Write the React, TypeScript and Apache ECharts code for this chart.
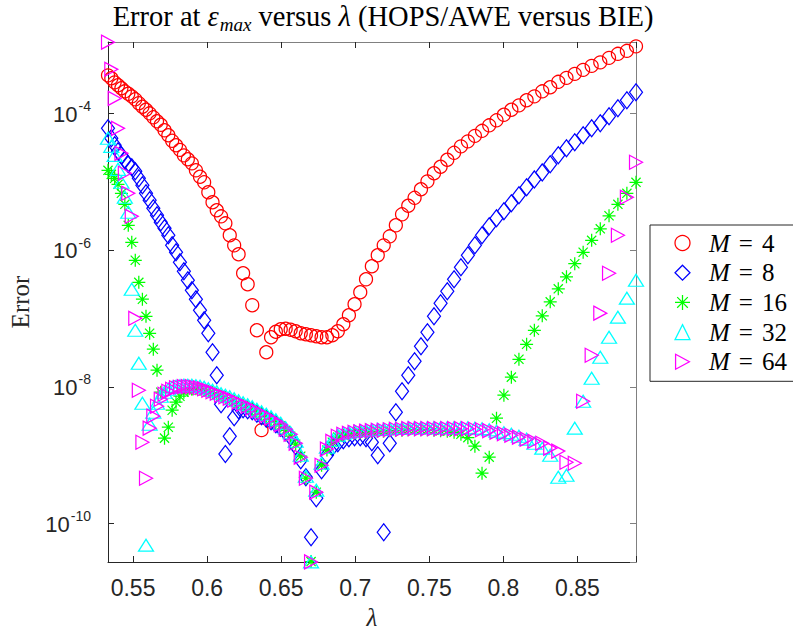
import { useEffect, useRef } from "react";
import * as echarts from "echarts";

// Wavelength samples (shared by every reduced-order model)
const lambda = [
  0.5331, 0.53533, 0.53759, 0.53986, 0.54215, 0.54446, 0.54679, 0.54914, 0.55151, 0.5539,
  0.55632, 0.55875, 0.56121, 0.56369, 0.56619, 0.56871, 0.57125, 0.57382, 0.5764, 0.57901,
  0.58165, 0.58431, 0.58699, 0.58971, 0.59244, 0.59521, 0.59799, 0.60081, 0.60365, 0.60651,
  0.60941, 0.61233, 0.61528, 0.61826, 0.62126, 0.6243, 0.62737, 0.63046, 0.63359, 0.63675,
  0.63994, 0.64316, 0.64641, 0.6497, 0.65302, 0.65638, 0.65977, 0.6632, 0.66666, 0.67016,
  0.67369, 0.67726, 0.68087, 0.68452, 0.68821, 0.69194, 0.69571, 0.69952, 0.70337, 0.70726,
  0.7112, 0.71518, 0.71921, 0.72328, 0.7274, 0.73157, 0.73578, 0.74004, 0.74436, 0.74872,
  0.75314, 0.7576, 0.76212, 0.7667, 0.77133, 0.77602, 0.78076, 0.78557, 0.79042, 0.79534,
  0.80033, 0.80537, 0.81048, 0.81566, 0.8209, 0.82622, 0.8316, 0.83704, 0.84257, 0.84816,
  0.85383, 0.85957, 0.86539, 0.8713, 0.87728, 0.88335, 0.8895,
];

// Error at eps_max, M = 4
const errM4 = [
  3.63e-4, 3.29e-4, 2.87e-4, 2.6e-4, 2.35e-4, 2.12e-4, 1.95e-4, 1.79e-4, 1.62e-4, 1.42e-4,
  1.26e-4, 1.14e-4, 1.01e-4, 8.83e-5, 7.72e-5, 6.86e-5, 5.7e-5, 4.82e-5, 4.0e-5, 3.44e-5,
  2.95e-5, 2.45e-5, 2.15e-5, 1.87e-5, 1.48e-5, 1.19e-5, 9.88e-6, 7.06e-6, 5.04e-6, 3.85e-6,
  3.14e-6, 2.48e-6, 1.66e-6, 1.18e-6, 8.74e-7, 4.61e-7, 3.18e-7, 1.57e-7, 6.75e-8, 2.33e-9,
  3.22e-8, 5.34e-8, 6.42e-8, 6.98e-8, 7.1e-8, 6.87e-8, 6.53e-8, 6.1e-8, 5.9e-8, 5.71e-8,
  5.52e-8, 5.34e-8, 5.34e-8, 5.71e-8, 6.53e-8, 8.27e-8, 1.12e-7, 1.62e-7, 2.43e-7, 3.76e-7,
  5.83e-7, 8.45e-7, 1.18e-6, 1.6e-6, 2.32e-6, 3.36e-6, 4.48e-6, 5.86e-6, 7.81e-6, 1.02e-5,
  1.34e-5, 1.67e-5, 2.11e-5, 2.67e-5, 3.32e-5, 3.93e-5, 4.73e-5, 5.6e-5, 6.74e-5, 7.98e-5,
  9.61e-5, 1.14e-4, 1.32e-4, 1.57e-4, 1.79e-4, 2.12e-4, 2.43e-4, 2.92e-4, 3.34e-4, 3.82e-4,
  4.37e-4, 5.0e-4, 5.63e-4, 6.55e-4, 7.5e-4, 8.3e-4, 9.65e-4,
];

// M = 8
const errM8 = [
  6.09e-5, 4.35e-5, 3.44e-5, 2.81e-5, 2.45e-5, 2.07e-5, 1.81e-5, 1.64e-5, 1.43e-5, 1.13e-5,
  8.93e-6, 6.82e-6, 5.39e-6, 4.12e-6, 3.25e-6, 2.57e-6, 2.1e-6, 1.66e-6, 1.18e-6, 9.35e-7,
  6.67e-7, 4.93e-7, 3.64e-7, 2.6e-7, 1.92e-7, 1.33e-7, 9.46e-8, 6.1e-8, 3.22e-8, 1.48e-8,
  5.58e-9, 1.04e-9, 1.9e-9, 3.6e-9, 4.56e-9, 4.72e-9, 4.56e-9, 4.41e-9, 4.05e-9, 3.72e-9,
  3.42e-9, 3.15e-9, 2.84e-9, 2.53e-9, 2.17e-9, 1.84e-9, 1.36e-9, 8.46e-10, 4.77e-10, 6.32e-11,
  2.35e-10, 6.04e-10, 1.0e-9, 1.31e-9, 1.5e-9, 1.66e-9, 1.78e-9, 1.84e-9, 1.84e-9, 1.78e-9,
  1.55e-9, 1.0e-9, 7.48e-11, 1.5e-9, 4.26e-9, 8.65e-9, 1.48e-8, 2.38e-8, 3.94e-8, 6.31e-8,
  1.08e-7, 1.68e-7, 2.51e-7, 3.76e-7, 5.64e-7, 8.45e-7, 1.18e-6, 1.66e-6, 2.24e-6, 2.94e-6,
  3.72e-6, 4.87e-6, 6.38e-6, 8.35e-6, 1.09e-5, 1.38e-5, 1.81e-5, 2.45e-5, 3.11e-5, 3.8e-5,
  4.82e-5, 6.09e-5, 7.21e-5, 9.13e-5, 1.2e-4, 1.57e-4, 2.05e-4,
];

// M = 16
const errM16 = [
  1.48e-5, 1.29e-5, 1.13e-5, 9.24e-6, 6.82e-6, 4.71e-6, 2.32e-6, 1.31e-6, 7.14e-7, 3.4e-7,
  1.92e-7, 1.08e-7, 6.1e-8, 3.56e-8, 1.76e-8, 8.36e-9, 1.78e-9, 2.57e-9, 4.56e-9, 5.97e-9,
  7.31e-9, 8.36e-9, 8.94e-9, 9.25e-9, 9.41e-9, 9.25e-9, 8.94e-9, 8.65e-9, 8.22e-9, 7.82e-9,
  7.31e-9, 6.95e-9, 6.61e-9, 6.17e-9, 5.77e-9, 5.4e-9, 5.05e-9, 4.72e-9, 4.34e-9, 3.99e-9,
  3.66e-9, 3.37e-9, 3.04e-9, 2.7e-9, 2.32e-9, 1.9e-9, 1.45e-9, 9.68e-10, 4.61e-10, 2.78e-11,
  2.88e-10, 7.15e-10, 1.19e-9, 1.55e-9, 1.84e-9, 1.96e-9, 2.03e-9, 2.1e-9, 2.14e-9, 2.17e-9,
  2.21e-9, 2.25e-9, 2.25e-9, 2.29e-9, 2.32e-9, 2.32e-9, 2.36e-9, 2.36e-9, 2.36e-9, 2.36e-9,
  2.32e-9, 2.29e-9, 2.25e-9, 2.17e-9, 2.03e-9, 1.81e-9, 1.36e-9, 5.46e-10, 9.36e-10, 3.48e-9,
  7.56e-9, 1.39e-8, 2.54e-8, 4.21e-8, 6.75e-8, 1.1e-7, 1.76e-7, 2.73e-7, 4.09e-7, 6.35e-7,
  9.35e-7, 1.4e-6, 2.06e-6, 3.2e-6, 4.71e-6, 6.82e-6, 9.88e-6,
];

// M = 32
const errM32 = [
  4.35e-5, 3.32e-5, 2.45e-5, 1.53e-5, 9.88e-6, 5.96e-6, 3.6e-6, 2.69e-7, 6.75e-8, 2.22e-8,
  5.77e-9, 4.83e-11, 2.84e-9, 4.26e-9, 5.77e-9, 7.31e-9, 8.36e-9, 9.25e-9, 9.9e-9, 1.02e-8,
  1.04e-8, 1.06e-8, 1.06e-8, 1.06e-8, 1.04e-8, 1.02e-8, 9.9e-9, 9.41e-9, 8.94e-9, 8.51e-9,
  7.95e-9, 7.56e-9, 7.19e-9, 6.72e-9, 6.28e-9, 5.87e-9, 5.49e-9, 5.13e-9, 4.72e-9, 4.34e-9,
  3.99e-9, 3.66e-9, 3.31e-9, 2.94e-9, 2.53e-9, 2.14e-9, 1.6e-9, 1.0e-9, 4.93e-10, 2.75e-11,
  3.08e-10, 7.64e-10, 1.31e-9, 1.66e-9, 1.96e-9, 2.1e-9, 2.17e-9, 2.25e-9, 2.29e-9, 2.32e-9,
  2.36e-9, 2.4e-9, 2.4e-9, 2.45e-9, 2.49e-9, 2.49e-9, 2.53e-9, 2.53e-9, 2.53e-9, 2.53e-9,
  2.53e-9, 2.53e-9, 2.53e-9, 2.53e-9, 2.53e-9, 2.53e-9, 2.49e-9, 2.45e-9, 2.36e-9, 2.25e-9,
  2.14e-9, 2.03e-9, 1.9e-9, 1.72e-9, 1.5e-9, 1.27e-9, 1.0e-9, 4.77e-10, 5.1e-10, 2.49e-9,
  6.17e-9, 1.34e-8, 2.72e-8, 5.34e-8, 1.05e-7, 1.99e-7, 3.64e-7,
];

// M = 64
const errM64 = [
  1.11e-3, 4.45e-4, 1.67e-4, 6.09e-5, 2.62e-5, 1.34e-5, 6.82e-6, 3.14e-6, 1.01e-7, 8.94e-9,
  1.55e-9, 4.61e-10, 2.49e-9, 3.73e-9, 5.22e-9, 6.61e-9, 7.82e-9, 8.65e-9, 9.25e-9, 9.73e-9,
  9.9e-9, 1.01e-8, 1.01e-8, 1.01e-8, 9.9e-9, 9.73e-9, 9.41e-9, 8.94e-9, 8.51e-9, 8.09e-9,
  7.56e-9, 7.19e-9, 6.83e-9, 6.39e-9, 5.97e-9, 5.58e-9, 5.22e-9, 4.88e-9, 4.48e-9, 4.12e-9,
  3.79e-9, 3.48e-9, 3.15e-9, 2.8e-9, 2.4e-9, 2.03e-9, 1.5e-9, 9.36e-10, 4.61e-10, 2.75e-11,
  2.88e-10, 7.15e-10, 1.23e-9, 1.6e-9, 1.9e-9, 2.03e-9, 2.1e-9, 2.17e-9, 2.21e-9, 2.25e-9,
  2.29e-9, 2.32e-9, 2.32e-9, 2.36e-9, 2.4e-9, 2.4e-9, 2.45e-9, 2.45e-9, 2.45e-9, 2.45e-9,
  2.45e-9, 2.45e-9, 2.45e-9, 2.45e-9, 2.45e-9, 2.45e-9, 2.4e-9, 2.36e-9, 2.29e-9, 2.17e-9,
  2.07e-9, 1.96e-9, 1.84e-9, 1.72e-9, 1.6e-9, 1.5e-9, 1.27e-9, 1.15e-9, 7.91e-10, 7.64e-10,
  6.17e-9, 2.91e-8, 1.2e-7, 4.61e-7, 1.66e-6, 5.96e-6, 1.94e-5,
];

const seriesNames = ["M = 4", "M = 8", "M = 16", "M = 32", "M = 64"];
const seriesColors = ["#ff0000", "#0000ff", "#00ff00", "#00ffff", "#ff00ff"];

const lambdaRange = [0.5331, 0.8895];
const errRange = [2.74e-11, 1.117e-3];
const lambdaStep = 0.05;

const SANS = "'Liberation Sans', Arial, Helvetica, sans-serif";
const SERIF = "'Liberation Serif', 'Times New Roman', serif";
const AXIS_DARK = "#262626";
const AXIS_LIGHT = "#808080";

const ASTERISK =
  "path://M6,0L6,12M0,6L12,6M1.76,1.76L10.24,10.24M1.76,10.24L10.24,1.76";
const TRIANGLE_RIGHT = "path://M0,0L12,6.5L0,13Z";

const markerSpecs: { symbol: string; size: number | number[] }[] = [
  { symbol: "circle", size: 13 },
  { symbol: "diamond", size: [13, 17] },
  { symbol: ASTERISK, size: 13 },
  { symbol: "triangle", size: [15, 12] },
  { symbol: TRIANGLE_RIGHT, size: [13, 14] },
];

function xLabel(v: number): string {
  const k = Math.round(v / lambdaStep);
  if (Math.abs(v - k * lambdaStep) > 1e-6) return "";
  return String(+(k * lambdaStep).toFixed(2));
}

function yLabel(v: number): string {
  const e = Math.log10(v);
  const r = Math.round(e);
  if (Math.abs(e - r) > 0.01) return "";
  return `{b|10}{s|${r}}`;
}

function buildOption() {
  const values = [errM4, errM8, errM16, errM32, errM64];

  const series = values.map((vals, s) => ({
    type: "scatter",
    name: seriesNames[s],
    xAxisIndex: 0,
    yAxisIndex: 0,
    data: lambda.map((x, i) => [x, vals[i]]),
    symbol: markerSpecs[s].symbol,
    symbolSize: markerSpecs[s].size,
    itemStyle: {
      color: "none",
      borderColor: seriesColors[s],
      borderWidth: 1.25,
      opacity: 1,
    },
    emphasis: { disabled: true },
    silent: true,
  }));

  const xCommon = {
    type: "value",
    min: lambdaRange[0],
    max: lambdaRange[1],
    splitNumber: 7,
    minInterval: lambdaStep,
    maxInterval: lambdaStep,
    splitLine: { show: false },
    minorTick: { show: false },
  };

  const yCommon = {
    type: "log",
    logBase: 100,
    min: errRange[0],
    max: errRange[1],
    splitLine: { show: false },
    minorTick: { show: false },
  };

  const legendFont = {
    fontFamily: SERIF,
    fontSize: 25,
    lineHeight: 25,
    color: "#000000",
  };

  return {
    animation: false,
    backgroundColor: "#ffffff",
    grid: {
      left: 108,
      top: 42,
      width: 528,
      height: 520,
      containLabel: false,
      outerBoundsMode: "none",
    },
    xAxis: [
      {
        ...xCommon,
        position: "bottom",
        axisLine: { show: true, onZero: false, lineStyle: { color: AXIS_DARK, width: 1 } },
        axisTick: { show: true, inside: true, length: 6, lineStyle: { color: AXIS_DARK } },
        axisLabel: {
          margin: 14,
          formatter: xLabel,
          color: AXIS_DARK,
          fontFamily: SANS,
          fontSize: 23,
        },
        name: "λ",
        nameLocation: "middle",
        nameGap: 43,
        nameMoveOverlap: false,
        nameTextStyle: {
          fontFamily: SERIF,
          fontStyle: "italic",
          fontSize: 25,
          color: AXIS_DARK,
        },
      },
      {
        ...xCommon,
        position: "top",
        axisLine: { show: true, onZero: false, lineStyle: { color: AXIS_LIGHT, width: 1 } },
        axisTick: { show: true, inside: true, length: 6, lineStyle: { color: AXIS_DARK } },
        axisLabel: { show: false },
      },
    ],
    yAxis: [
      {
        ...yCommon,
        position: "left",
        axisLine: { show: true, onZero: false, lineStyle: { color: AXIS_DARK, width: 1 } },
        axisTick: { show: true, inside: true, length: 6, lineStyle: { color: AXIS_DARK } },
        axisLabel: {
          margin: 17,
          formatter: yLabel,
          color: AXIS_DARK,
          fontFamily: SANS,
          rich: {
            b: {
              fontFamily: SANS,
              fontSize: 22,
              lineHeight: 23,
              color: AXIS_DARK,
              verticalAlign: "bottom",
              padding: [6, 0, 0, 0],
            },
            s: {
              fontFamily: SANS,
              fontSize: 14,
              lineHeight: 14,
              color: AXIS_DARK,
              verticalAlign: "bottom",
              padding: [0, 0, 12, 1],
            },
          },
        },
        name: "Error",
        nameLocation: "middle",
        nameGap: 75,
        nameMoveOverlap: false,
        nameTextStyle: { fontFamily: SERIF, fontSize: 25, color: AXIS_DARK },
      },
      {
        ...yCommon,
        position: "right",
        axisLine: { show: true, onZero: false, lineStyle: { color: AXIS_LIGHT, width: 1 } },
        axisTick: { show: true, inside: true, length: 6, lineStyle: { color: AXIS_LIGHT } },
        axisLabel: { show: false },
      },
    ],
    legend: {
      orient: "vertical",
      left: 650,
      top: 225,
      data: seriesNames,
      selectedMode: false,
      itemWidth: 15,
      itemHeight: 15,
      itemGap: 4.7,
      padding: [5.5, 8, 7, 22.5],
      borderColor: AXIS_DARK,
      borderWidth: 1,
      borderRadius: 0,
      backgroundColor: "#ffffff",
      itemStyle: { borderWidth: 1.25 },
      formatter: (name: string) => `{m|M}{e|=}{t|${name.split("= ")[1]}}`,
      textStyle: {
        ...legendFont,
        rich: {
          m: { ...legendFont, fontStyle: "italic", padding: [0, 0, 0, 14] },
          e: { ...legendFont, padding: [0, 9, 0, 9] },
          t: { ...legendFont },
        },
      },
    },
    graphic: [
      {
        type: "text",
        x: 383,
        y: 2,
        silent: true,
        style: {
          text: "{t|Error at }{i|ε}{s|max}{t| versus }{i|λ}{t| (HOPS/AWE versus BIE)}",
          align: "center",
          verticalAlign: "top",
          rich: {
            t: { fontFamily: SERIF, fontSize: 28.5, lineHeight: 30, fill: "#000", verticalAlign: "top" },
            i: {
              fontFamily: SERIF,
              fontStyle: "italic",
              fontSize: 28.5,
              lineHeight: 30,
              fill: "#000",
              verticalAlign: "top",
            },
            s: {
              fontFamily: SERIF,
              fontStyle: "italic",
              fontSize: 19,
              lineHeight: 19,
              fill: "#000",
              verticalAlign: "top",
              padding: [13, 0, 0, 1],
            },
          },
        },
      },
    ],
    series,
  };
}

export default function App() {
  const ref = useRef<HTMLDivElement>(null);

  useEffect(() => {
    if (!ref.current) return;
    const chart = echarts.init(ref.current, null, { renderer: "svg" });
    chart.setOption(buildOption() as any);
    return () => chart.dispose();
  }, []);

  return (
    <div
      ref={ref}
      style={{ position: "absolute", left: 0, top: 0, width: 793, height: 630 }}
    />
  );
}
